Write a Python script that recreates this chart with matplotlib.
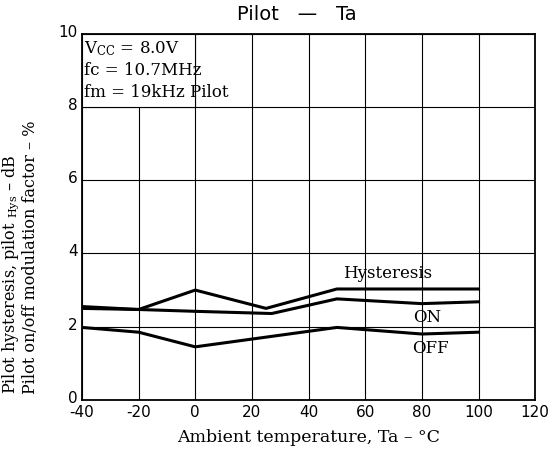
import matplotlib
matplotlib.use("Agg")
import matplotlib.pyplot as plt
import matplotlib.transforms as mtransforms
from matplotlib.patches import Rectangle

# Data
temp_hys = [-40, -20, 0, 25, 50, 100]
hysteresis = [2.55, 2.47, 3.0, 2.5, 3.03, 3.03]

temp_on = [-40, -20, 0, 27, 50, 80, 100]
pilot_on = [2.5, 2.47, 2.42, 2.36, 2.76, 2.63, 2.68]

temp_off = [-40, -20, 0, 50, 80, 100]
pilot_off = [1.98, 1.85, 1.45, 1.98, 1.8, 1.85]

x_ticks = [-40, -20, 0, 20, 40, 60, 80, 100, 120]
y_ticks = [0, 2, 4, 6, 8, 10]

conditions = [r"V$_{\rm CC}$ = 8.0V", "fc = 10.7MHz", "fm = 19kHz Pilot"]

SERIF = ["DejaVu Serif"]
plt.rcParams["mathtext.fontset"] = "dejavuserif"

fig = plt.figure(figsize=(5.5, 4.52), dpi=100)
ax = fig.add_axes([0.149, 0.113, 0.824, 0.810])

ax.set_xlim(-40, 120)
ax.set_ylim(0, 10)
ax.set_xticks(x_ticks)
ax.set_yticks(y_ticks)
ax.set_xticklabels([str(t) for t in x_ticks], fontsize=11)
ax.set_yticklabels([str(t) for t in y_ticks], fontsize=11)
ax.tick_params(length=0, pad=2)
ax.tick_params(axis="x", pad=3)
# nudge y tick labels up a little, as in the original
ytrans, _, _ = ax.get_yaxis_text1_transform(3)
shift = mtransforms.ScaledTranslation(0, 3 / 72, fig.dpi_scale_trans)
for lbl in ax.get_yticklabels():
    lbl.set_transform(ytrans + shift)
ax.grid(True, color="black", linewidth=0.8)
ax.set_axisbelow(True)
for s in ax.spines.values():
    s.set_linewidth(1.3)

# white box for the conditions text (hides grid underneath)
ax.add_patch(Rectangle((-40, 8), 40, 2, facecolor="white", edgecolor="black",
                       linewidth=0.8, zorder=1.5))
for i, line in enumerate(conditions):
    ax.text(-39.3, 9.62 - i * 0.6, line, fontsize=12, family=SERIF,
            ha="left", va="center", zorder=3)

ax.plot(temp_hys, hysteresis, color="black", linewidth=2.2, zorder=3)
ax.plot(temp_on, pilot_on, color="black", linewidth=2.2, zorder=3)
ax.plot(temp_off, pilot_off, color="black", linewidth=2.2, zorder=3)

ax.text(68, 3.47, "Hysteresis", fontsize=12, family=SERIF, ha="center", va="center")
ax.text(82, 2.27, "ON", fontsize=12, family=SERIF, ha="center", va="center")
ax.text(83, 1.44, "OFF", fontsize=12, family=SERIF, ha="center", va="center")

fig.text(0.54, 0.967, "Pilot   \u2014   Ta", fontsize=14, ha="center", va="center")
fig.text(0.561, 0.033, "Ambient temperature, Ta \u2013 \u00b0C", fontsize=12.5,
         family=SERIF, ha="center", va="center")
fig.text(0.019, 0.128, "Pilot hysteresis, pilot $_{\\rm Hys}$ \u2013 dB",
         fontsize=11.5, family=SERIF, rotation=90, ha="center", va="bottom")
fig.text(0.056, 0.128, "Pilot on/off modulation factor \u2013 %",
         fontsize=11.5, family=SERIF, rotation=90, ha="center", va="bottom")

fig.savefig("out.png", dpi=100)
